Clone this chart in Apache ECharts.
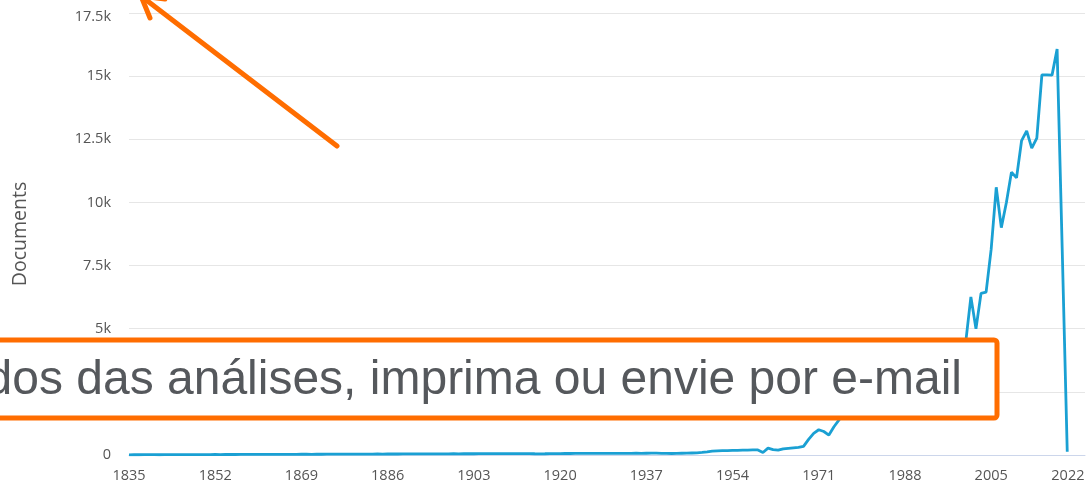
<!DOCTYPE html>
<html>
<head>
<meta charset="utf-8">
<style>
  html, body { margin: 0; padding: 0; background: #fff; }
  #chart { width: 1086px; height: 483px; }
</style>
<script src="https://cdn.jsdelivr.net/npm/echarts@6/dist/echarts.min.js"></script>
</head>
<body>
<div id="chart"></div>
<script>
// documents per year, first value is 1835
var firstYear = 1835;
var documents = [
    8, 10, 9, 12, 11, 13, 10, 12, 14, 13,           // 1835
    15, 14, 16, 15, 18, 17, 16, 19, 18, 20,         // 1845
    21, 19, 22, 23, 21, 24, 22, 25, 24, 26,         // 1855
    25, 27, 28, 26, 29, 30, 28, 31, 30, 32,         // 1865
    33, 31, 34, 35, 33, 36, 37, 35, 38, 39,         // 1875
    37, 40, 41, 39, 42, 43, 41, 44, 45, 43,         // 1885
    46, 47, 45, 48, 49, 47, 50, 51, 49, 52,         // 1895
    53, 51, 54, 55, 53, 56, 57, 55, 58, 54,         // 1905
    50, 48, 49, 52, 56, 58, 60, 59, 62, 63,         // 1915
    61, 64, 65, 63, 66, 67, 65, 64, 66, 68,         // 1925
    69, 67, 70, 72, 71, 68, 62, 60, 64, 70,         // 1935
    75, 80, 85, 100, 120, 150, 160, 170, 175, 180,  // 1945
    185, 190, 195, 200, 200, 100, 270, 210, 190, 240, // 1955
    260, 280, 300, 340, 620, 860, 1000, 930, 790, 1120, // 1965
    1390, 1600, 1720, 1850, 1960, 2060, 2150, 2250, 2330, 2450, // 1975
    2560, 2640, 2750, 2830, 2950, 3050, 3120, 3240, 3350, 3430, // 1985
    3550, 3650, 3800, 3950, 4100, 4500, 6260, 5000, 6400, 6450, // 1995
    8150, 10600, 9000, 10000, 11200, 10970, 12450, 12830, 12150, 12550, // 2005
    15050, 15050, 15040, 16070, 8200, 130            // 2015
];
var lastTickYear = 2022;
var yearStep = 17;
var docStep = 2500;
var docMax = 17500;

var axisFont = 'Open Sans';
var labelColor = '#555555';
var orange = '#ff6d00';

var chart = echarts.init(document.getElementById('chart'));

var option = {
    animation: false,
    backgroundColor: '#ffffff',
    grid: {
        left: 129,
        right: 1,
        top: 13,
        bottom: 28,
        containLabel: false,
        outerBoundsMode: 'none'
    },
    xAxis: {
        type: 'value',
        min: 0,
        max: lastTickYear - firstYear + 1.5,
        interval: yearStep,
        axisLine: { lineStyle: { color: '#ccd6eb', width: 1 } },
        axisTick: { show: false },
        splitLine: { show: false },
        axisLabel: {
            showMaxLabel: false,
            margin: 13,
            fontFamily: axisFont,
            fontSize: 14.5,
            color: labelColor,
            formatter: function (v) {
                if (v % yearStep !== 0) return '';
                var y = firstYear + v;
                return y === lastTickYear ? '{last|' + y + '}' : String(y);
            },
            rich: {
                last: {
                    fontFamily: axisFont,
                    fontSize: 14.5,
                    color: labelColor,
                    padding: [0, 19, 0, 0]
                }
            }
        }
    },
    yAxis: {
        type: 'value',
        min: 0,
        max: docMax,
        interval: docStep,
        name: 'Documents',
        nameLocation: 'middle',
        nameRotate: 90,
        nameGap: 99,
        nameTextStyle: { fontFamily: axisFont, fontSize: 19.5, color: labelColor },
        axisLine: { show: false },
        axisTick: { show: false },
        splitLine: { lineStyle: { color: '#e6e6e6', width: 1 } },
        axisLabel: {
            margin: 18,
            fontFamily: axisFont,
            fontSize: 14.5,
            color: labelColor,
            formatter: function (v) {
                var txt = v === 0 ? '0' : (v / 1000) + 'k';
                return v === docMax ? '{top|' + txt + '}' : txt;
            },
            rich: {
                top: {
                    fontFamily: axisFont,
                    fontSize: 14.5,
                    color: labelColor,
                    padding: [8, 0, 0, 0]
                }
            }
        }
    },
    series: [{
        type: 'line',
        showSymbol: false,
        data: documents.map(function (v, i) { return [i, v]; }),
        lineStyle: { color: '#1aa0d3', width: 2.8 },
        itemStyle: { color: '#1aa0d3' }
    }],
    graphic: [
        {
            type: 'rect',
            z: 100,
            shape: { x: -10, y: 340, width: 1007, height: 78, r: 3 },
            style: { fill: '#ffffff', stroke: orange, lineWidth: 5 }
        },
        {
            type: 'text',
            z: 101,
            style: {
                text: 'dos das análises, imprima ou envie por e-mail',
                x: 962,
                y: 381,
                align: 'right',
                verticalAlign: 'middle',
                fontFamily: '"Liberation Sans", Arial, sans-serif',
                fontSize: 48,
                fill: '#55585c'
            }
        },
        {
            type: 'polyline',
            z: 100,
            shape: { points: [[337, 146], [141, -4]] },
            style: { stroke: orange, lineWidth: 5, lineCap: 'round', fill: null }
        },
        {
            type: 'polyline',
            z: 100,
            shape: { points: [[150, 18], [141, -4], [165, -1]] },
            style: { stroke: orange, lineWidth: 5, lineCap: 'round', lineJoin: 'round', fill: null }
        }
    ]
};

chart.setOption(option);

window.onresize = chart.resize;
</script>
</body>
</html>
